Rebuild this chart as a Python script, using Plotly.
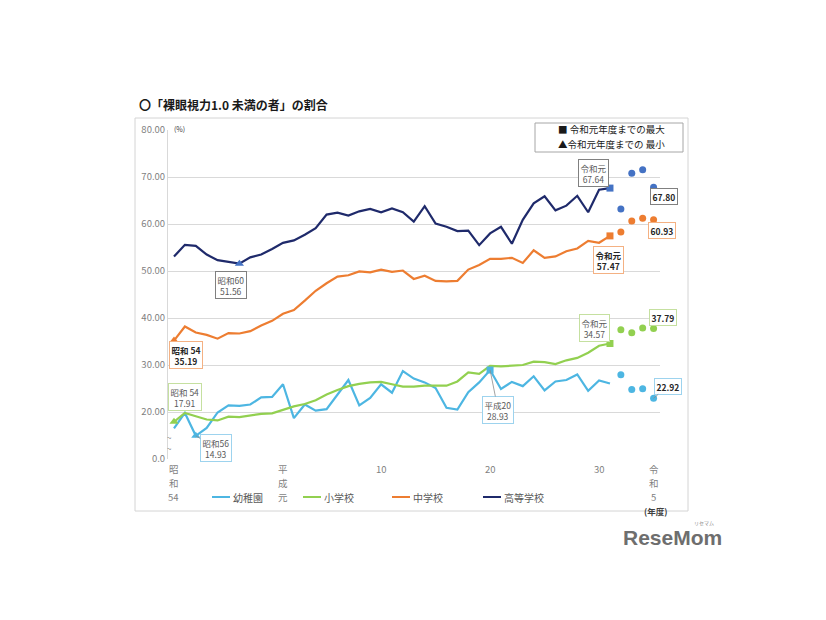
import numpy as np
import plotly.graph_objects as go

FONT = "Noto Sans CJK JP"

# ---------------- data ----------------
years = list(range(1979, 2020))          # 昭和54 .. 令和元
recent_years = [2020, 2021, 2022, 2023]  # 令和2 .. 令和5

kindergarten = [16.5, 19.8, 14.93, 16.6, 19.9, 21.4, 21.3, 21.6, 23.1, 23.2,
                25.9, 18.7, 21.6, 20.3, 20.6, 23.7, 26.8, 21.4, 23.0, 25.9,
                24.1, 28.7, 27.1, 26.3, 25.1, 20.9, 20.5, 24.2, 26.3, 28.93,
                24.9, 26.4, 25.5, 27.6, 24.6, 26.5, 26.8, 28.0, 24.5, 26.7, 26.06]
elementary = [17.91, 19.8, 19.1, 18.4, 18.2, 19.0, 18.9, 19.2, 19.6, 19.7,
              20.5, 21.2, 21.7, 22.5, 23.7, 24.7, 25.5, 26.0, 26.3, 26.4,
              25.9, 25.4, 25.4, 25.6, 25.6, 25.6, 26.5, 28.4, 28.1, 29.8,
              29.7, 29.9, 30.0, 30.7, 30.6, 30.2, 31.0, 31.5, 32.6, 34.1, 34.57]
junior_high = [35.19, 38.2, 36.9, 36.4, 35.6, 36.8, 36.7, 37.2, 38.4, 39.4,
               40.9, 41.7, 43.7, 45.8, 47.4, 48.8, 49.1, 49.9, 49.7, 50.3,
               49.8, 50.1, 48.3, 49.0, 47.9, 47.8, 47.9, 50.3, 51.3, 52.6,
               52.6, 52.8, 51.7, 54.4, 52.8, 53.1, 54.2, 54.8, 56.4, 56.0, 57.47]
high_school = [53.06, 55.56, 55.34, 53.5, 52.3, 51.9, 51.56, 52.9, 53.5, 54.7,
               56.0, 56.5, 57.7, 59.1, 62.0, 62.4, 61.8, 62.7, 63.2, 62.5,
               63.3, 62.5, 60.5, 63.8, 60.1, 59.4, 58.5, 58.6, 55.5, 58.0,
               59.4, 55.8, 60.9, 64.4, 65.9, 62.9, 63.9, 66.0, 62.5, 67.3, 67.64]

kindergarten_recent = [27.90, 24.81, 24.95, 22.92]
elementary_recent = [37.52, 36.87, 37.88, 37.79]
junior_high_recent = [58.29, 60.66, 61.23, 60.93]
high_school_recent = [63.17, 70.81, 71.56, 67.80]

series_names = ["幼稚園", "小学校", "中学校", "高等学校"]

x_tickvals = [1979, 1989, 1998, 2008, 2018, 2023]
x_ticklines = [["昭", "和", "54"], ["平", "成", "元"], ["10"], ["20"], ["30"], ["令", "和", "5"]]
y_tickvals = [10, 20, 30, 40, 50, 60, 70, 80]
y_ticktext = ["0.0", "20.00", "30.00", "40.00", "50.00", "60.00", "70.00", "80.00"]

# era names for the min / max labels
def era(y):
    if y < 1989:
        return f"昭和{y - 1925}"
    if y < 2019:
        return "平成元" if y == 1989 else f"平成{y - 1988}"
    return "令和元" if y == 2019 else f"令和{y - 2018}"

# ---------------- styles ----------------
line_colors = ["#4DB6E2", "#92D050", "#ED7D31", "#1F2A6B"]
dot_colors = ["#4DB6E2", "#92D050", "#ED7D31", "#4472C4"]
box_colors = ["#9DD3EE", "#C5E0A0", "#F4B183", "#808080"]

# page offset (browser body margin) and plot-area pixel box in window coordinates
OFF = 8
W, H = 826 - 2 * OFF, 620 - 2 * OFF
L, R, T, B = 168, 660, 130, 459

def px(p):
    return (p - L) / (R - L)

def py(p):
    return (B - p) / (B - T)

fig = go.Figure()

all_series = [kindergarten, elementary, junior_high, high_school]
all_recent = [kindergarten_recent, elementary_recent, junior_high_recent, high_school_recent]

for name, vals, col in zip(series_names, all_series, line_colors):
    fig.add_trace(go.Scatter(x=years, y=vals, mode="lines", name=name, showlegend=False,
                             line=dict(color=col, width=2.2)))

for vals, col in zip(all_recent, dot_colors):
    fig.add_trace(go.Scatter(x=recent_years, y=vals, mode="markers", showlegend=False,
                             marker=dict(color=col, size=7)))

# min (triangle) / max (square) markers
for vals, col in zip(all_series, dot_colors):
    a = np.array(vals)
    imin, imax = int(a.argmin()), int(a.argmax())
    fig.add_trace(go.Scatter(x=[years[imin]], y=[vals[imin]], mode="markers", showlegend=False,
                             marker=dict(symbol="triangle-up", color=col, size=8)))
    fig.add_trace(go.Scatter(x=[years[imax]], y=[vals[imax]], mode="markers", showlegend=False,
                             marker=dict(symbol="square", color=col, size=7)))

# ---------------- labels ----------------
ann = []

def box_label(x, y, text, border, dx, dy, bold=False, arrow=False):
    fcol = "#262626" if bold else "#595959"
    t = f"<b>{text}</b>" if bold else text
    d = dict(x=x, y=y, xref="x", yref="y", text=t, xanchor="center", yanchor="middle",
             font=dict(family=FONT, size=8.5, color=fcol),
             bordercolor=border, borderwidth=1, borderpad=1.5, bgcolor="white")
    if arrow:
        d.update(showarrow=True, arrowhead=0, arrowwidth=0.8, arrowcolor="#8c8c8c",
                 ax=dx, ay=dy, standoff=0)
    else:
        d.update(showarrow=False, xshift=dx, yshift=-dy)
    ann.append(d)

min_offsets = [(20, 12, True), (11, -25, False), (12, 14, False), (-8, 21, False)]
max_offsets = [(8, 40, True), (-15, -16, False), (-1, 24, False), (-16, -15, False)]
min_bold = [False, False, True, False]
max_bold = [False, False, True, False]

for k, vals in enumerate(all_series):
    a = np.array(vals)
    imin, imax = int(a.argmin()), int(a.argmax())
    ylo, yhi = years[imin], years[imax]
    lo_name = era(ylo).replace("昭和", "昭和 ") if k in (1, 2) else era(ylo)
    dx, dy, arr = min_offsets[k]
    box_label(ylo, vals[imin], f"{lo_name}<br>{vals[imin]:.2f}", box_colors[k], dx, dy,
              bold=min_bold[k], arrow=arr)
    dx, dy, arr = max_offsets[k]
    box_label(yhi, vals[imax], f"{era(yhi)}<br>{vals[imax]:.2f}", box_colors[k], dx, dy,
              bold=max_bold[k], arrow=arr)

last_offsets = [(14, -12, True), (9, -11, False), (8, 11, False), (10, 9, False)]
for k, vals in enumerate(all_recent):
    dx, dy, arr = last_offsets[k]
    box_label(recent_years[-1], vals[-1], f"{vals[-1]:.2f}", box_colors[k], dx, dy,
              bold=True, arrow=arr)

# x tick labels (stacked vertically, as in the original)
line_y = [469, 483, 497]
for xv, lines in zip(x_tickvals, x_ticklines):
    for i, s in enumerate(lines):
        ann.append(dict(x=xv, y=py(line_y[i]), xref="x", yref="paper", text=s,
                        showarrow=False, xanchor="center", yanchor="middle",
                        font=dict(family=FONT, size=9.5, color="#7f7f7f")))

def txt(x, y, text, size, color, xanchor="center", family=FONT):
    ann.append(dict(x=px(x), y=py(y), xref="paper", yref="paper", text=text, showarrow=False,
                    xanchor=xanchor, yanchor="middle", font=dict(family=family, size=size, color=color)))

txt(137, 104, "<b>〇「裸眼視力1.0 未満の者」の割合</b>", 12, "#1a1a1a", xanchor="left")
txt(172, 129, "(%)", 7, "#404040", xanchor="left")
txt(169, 437, "~", 8, "#7f7f7f")
txt(169, 448.5, "~", 8, "#7f7f7f")
txt(655, 511, "<b>(年度)</b>", 8.5, "#404040")
txt(611, 129.5, "■ 令和元年度までの最大", 9.5, "#1a1a1a")
txt(611, 143.5, "▲令和元年度までの 最小", 9.5, "#1a1a1a")
txt(672, 537, "<b>ReseMom</b>", 21, "#6e6e6e", family="Liberation Sans")
txt(704, 523, "リセマム", 5, "#8a8a8a")

shapes = [
    dict(type="rect", xref="paper", yref="paper", x0=px(135), x1=px(688), y0=py(511), y1=py(118),
         line=dict(color="#d4d4d4", width=1), fillcolor="rgba(0,0,0,0)", layer="below"),
    dict(type="rect", xref="paper", yref="paper", x0=px(535), x1=px(683), y0=py(152), y1=py(123),
         line=dict(color="#a6a6a6", width=1), fillcolor="white", layer="above"),
]

# legend (series key) along the bottom
legend_x = [212, 303, 392, 483]
for name, col, lx in zip(series_names, line_colors, legend_x):
    shapes.append(dict(type="line", xref="paper", yref="paper", x0=px(lx), x1=px(lx + 18),
                       y0=py(497), y1=py(497), line=dict(color=col, width=2)))
    txt(lx + 19, 497, name, 10, "#595959", xanchor="left")

fig.update_layout(
    width=W, height=H,
    margin=dict(l=L - OFF, r=W - (R - OFF), t=T - OFF, b=H - (B - OFF)),
    paper_bgcolor="white", plot_bgcolor="white",
    font=dict(family=FONT, color="#595959"),
    annotations=ann, shapes=shapes,
    showlegend=False,
    xaxis=dict(range=[1978.45, 2023.59], showgrid=False, zeroline=False, showline=False,
               showticklabels=False, ticks=""),
    yaxis=dict(range=[10, 80], tickvals=y_tickvals, ticktext=y_ticktext,
               showgrid=True, gridcolor="#d9d9d9", gridwidth=1, zeroline=False,
               showline=True, linecolor="#d9d9d9", ticks="",
               tickfont=dict(family=FONT, size=9.5, color="#7f7f7f")),
)

fig.write_html("out.html")
